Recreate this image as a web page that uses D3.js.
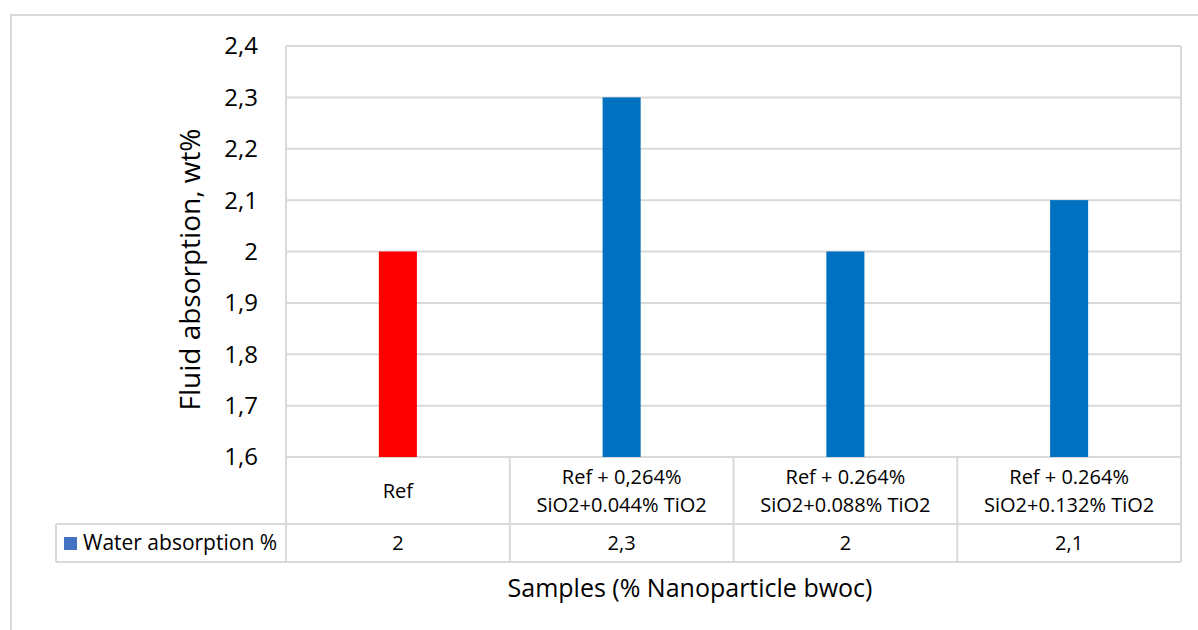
<!DOCTYPE html>
<html>
<head>
<meta charset="utf-8">
<script src="https://cdn.jsdelivr.net/npm/d3@7"></script>
<style>
  body { margin: 0; background: #fff; }
  text { font-family: "Open Sans", sans-serif; fill: #000; }
</style>
</head>
<body>
<svg id="chart" width="1198" height="630"></svg>
<script>
var categories = [
  ["Ref"],
  ["Ref + 0,264%", "SiO2+0.044% TiO2"],
  ["Ref + 0.264%", "SiO2+0.088% TiO2"],
  ["Ref + 0.264%", "SiO2+0.132% TiO2"]
]
var values = [2, 2.3, 2, 2.1]
var valueLabels = ["2", "2,3", "2", "2,1"]
var barColors = ["#FF0000", "#0070C0", "#0070C0", "#0070C0"]
var yTicks = [1.6, 1.7, 1.8, 1.9, 2, 2.1, 2.2, 2.3, 2.4]
var seriesName = "Water absorption %"

var svg = d3.select('#chart')
var grid = "#d9d9d9"

var plot = { left: 286, right: 1181, top: 46, bottom: 457 }
var rowBottom = 524, dataBottom = 562, legendLeft = 56

// outer chart border
svg.append("rect")
  .attr("x", 11).attr("y", 15)
  .attr("width", 1200).attr("height", 640)
  .attr("fill", "none")
  .attr("stroke", grid)
  .attr("stroke-width", 2)

var x = d3.scaleBand()
  .domain(d3.range(categories.length))
  .range([plot.left, plot.right])
  .paddingInner(0).paddingOuter(0)

var y = d3.scaleLinear()
  .domain([1.6, 2.4])
  .range([plot.bottom, plot.top])

// gridlines
svg.selectAll(".grid")
  .data(yTicks)
  .enter()
  .append("line")
  .attr("x1", plot.left).attr("x2", plot.right)
  .attr("y1", function (d) { return y(d) })
  .attr("y2", function (d) { return y(d) })
  .attr("stroke", grid)
  .attr("stroke-width", 2)

// y tick labels
var fmt = function (d) { return d3.format(".1~f")(d).replace(".", ",") }
svg.selectAll(".ytick")
  .data(yTicks)
  .enter()
  .append("text")
  .attr("x", 258)
  .attr("y", function (d) { return y(d) })
  .attr("dy", "0.35em")
  .attr("text-anchor", "end")
  .style("font-size", "24px")
  .text(fmt)

// bars
var barW = x.bandwidth() * 0.17
svg.selectAll(".bar")
  .data(values)
  .enter()
  .append("rect")
  .attr("x", function (d, i) { return x(i) + x.bandwidth() / 2 - barW / 2 })
  .attr("y", function (d) { return y(d) })
  .attr("width", barW)
  .attr("height", function (d) { return y(1.6) - y(d) })
  .attr("fill", function (d, i) { return barColors[i] })

// data table lines
var tbl = svg.append("g").attr("stroke", grid).attr("stroke-width", 2)
tbl.append("line").attr("x1", plot.left).attr("x2", plot.left).attr("y1", plot.top).attr("y2", dataBottom)
tbl.append("line").attr("x1", plot.right).attr("x2", plot.right).attr("y1", plot.top).attr("y2", dataBottom)
tbl.append("line").attr("x1", legendLeft).attr("x2", plot.right).attr("y1", rowBottom).attr("y2", rowBottom)
tbl.append("line").attr("x1", legendLeft).attr("x2", plot.right).attr("y1", dataBottom).attr("y2", dataBottom)
tbl.append("line").attr("x1", legendLeft).attr("x2", legendLeft).attr("y1", rowBottom).attr("y2", dataBottom)
tbl.selectAll(".vsep")
  .data(d3.range(1, categories.length))
  .enter()
  .append("line")
  .attr("x1", function (i) { return x(i) })
  .attr("x2", function (i) { return x(i) })
  .attr("y1", plot.bottom).attr("y2", dataBottom)

// category labels
var catG = svg.selectAll(".cat")
  .data(categories)
  .enter()
  .append("text")
  .attr("text-anchor", "middle")
  .style("font-size", "20px")
catG.selectAll("tspan")
  .data(function (d, i) { return d.map(function (t, j) { return { t: t, j: j, n: d.length, i: i } }) })
  .enter()
  .append("tspan")
  .attr("x", function (d) { return x(d.i) + x.bandwidth() / 2 })
  .attr("y", function (d) { return (plot.bottom + rowBottom) / 2 + (d.j - (d.n - 1) / 2) * 28 })
  .attr("dy", "0.35em")
  .text(function (d) { return d.t })

// value row
svg.selectAll(".val")
  .data(valueLabels)
  .enter()
  .append("text")
  .attr("x", function (d, i) { return x(i) + x.bandwidth() / 2 })
  .attr("y", (rowBottom + dataBottom) / 2)
  .attr("dy", "0.35em")
  .attr("text-anchor", "middle")
  .style("font-size", "20px")
  .text(function (d) { return d })

// legend key in table
svg.append("rect")
  .attr("x", 64).attr("y", 537)
  .attr("width", 13).attr("height", 13)
  .attr("fill", "#4472C4")
svg.append("text")
  .attr("x", 83)
  .attr("y", (rowBottom + dataBottom) / 2)
  .attr("dy", "0.35em")
  .style("font-size", "21px")
  .text(seriesName)

// axis titles
svg.append("text")
  .attr("transform", "translate(200," + ((plot.top + plot.bottom) / 2 + 18) + ") rotate(-90)")
  .attr("text-anchor", "middle")
  .style("font-size", "28px")
  .text("Fluid absorption, wt%")

svg.append("text")
  .attr("x", 690)
  .attr("y", 597)
  .attr("text-anchor", "middle")
  .style("font-size", "25px")
  .text("Samples (% Nanoparticle bwoc)")
</script>
</body>
</html>
